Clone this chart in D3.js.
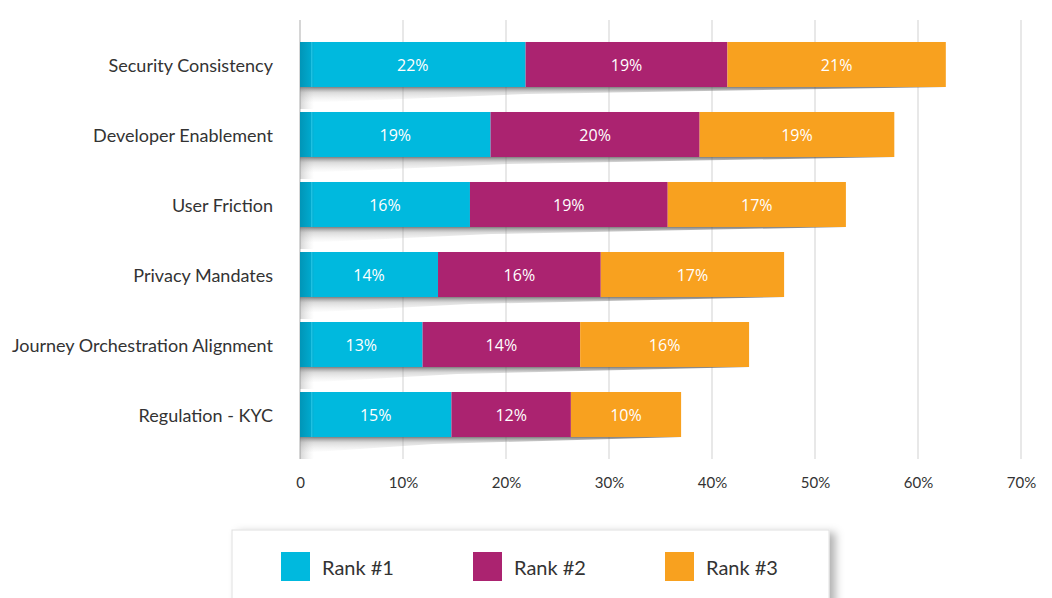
<!DOCTYPE html>
<html>
<head>
<meta charset="utf-8">
<script src="https://cdn.jsdelivr.net/npm/d3@7"></script>
<style>
  html, body { margin: 0; padding: 0; background: #fff; }
  svg { display: block; }
</style>
</head>
<body>
<svg width="1052" height="598"></svg>
<script>
// категории (сверху вниз)
const categories = ["Security Consistency", "Developer Enablement", "User Friction",
                    "Privacy Mandates", "Journey Orchestration Alignment", "Regulation - KYC"];
const seriesNames = ["Rank #1", "Rank #2", "Rank #3"];
const seriesColors = ["#00b9de", "#ab2370", "#f8a11f"];

// длины сегментов (в %)
const rank1 = [21.9, 18.5, 16.5, 13.4, 11.9, 14.7];
const rank2 = [19.6, 20.3, 19.2, 15.8, 15.3, 11.6];
const rank3 = [21.2, 18.9, 17.3, 17.8, 16.4, 10.7];
// подписи на сегментах
const label1 = [22, 19, 16, 14, 13, 15];
const label2 = [19, 20, 19, 16, 14, 12];
const label3 = [21, 19, 17, 17, 16, 10];

const tickValues = [0, 10, 20, 30, 40, 50, 60, 70];

const svg = d3.select("svg");
const defs = svg.append("defs");

const shadowGrad = defs.append("linearGradient")
    .attr("id", "barShadow").attr("x1", 0).attr("y1", 0).attr("x2", 0).attr("y2", 1);
shadowGrad.append("stop").attr("offset", "0%").attr("stop-color", "#555").attr("stop-opacity", 0.75);
shadowGrad.append("stop").attr("offset", "35%").attr("stop-color", "#999").attr("stop-opacity", 0.35);
shadowGrad.append("stop").attr("offset", "100%").attr("stop-color", "#ccc").attr("stop-opacity", 0);

const edgeGrad = defs.append("linearGradient")
    .attr("id", "edge").attr("x1", 0).attr("y1", 0).attr("x2", 1).attr("y2", 0);
edgeGrad.append("stop").attr("offset", "0%").attr("stop-color", "#00425e").attr("stop-opacity", 0.3);
edgeGrad.append("stop").attr("offset", "75%").attr("stop-color", "#00425e").attr("stop-opacity", 0.14);
edgeGrad.append("stop").attr("offset", "80%").attr("stop-color", "#ffffff").attr("stop-opacity", 0.15);
edgeGrad.append("stop").attr("offset", "100%").attr("stop-color", "#00425e").attr("stop-opacity", 0.04);

const stubGrad = defs.append("linearGradient")
    .attr("id", "stub").attr("x1", 0).attr("y1", 0).attr("x2", 1).attr("y2", 0);
stubGrad.append("stop").attr("offset", "0%").attr("stop-color", "#888").attr("stop-opacity", 0.35);
stubGrad.append("stop").attr("offset", "100%").attr("stop-color", "#bbb").attr("stop-opacity", 0);

const legendFilter = defs.append("filter").attr("id", "legShadow")
    .attr("x", "-5%").attr("y", "-20%").attr("width", "115%").attr("height", "150%");
legendFilter.append("feDropShadow").attr("dx", 6).attr("dy", 3).attr("stdDeviation", 4)
    .attr("flood-color", "#000").attr("flood-opacity", 0.3);

// шкалы
const scX = d3.scaleLinear().domain([0, 70]).range([300, 1021]);
const scY = d3.scaleBand().domain(categories).range([17, 462])
    .paddingInner(0.357).paddingOuter(0.357);

// сетка
svg.append("g").selectAll("line")
    .data(tickValues)
    .join("line")
    .attr("x1", d => scX(d)).attr("x2", d => scX(d))
    .attr("y1", 20).attr("y2", 459)
    .attr("stroke", d => d === 0 ? "#d6d6d6" : "#e8e8e8")
    .attr("stroke-width", 2);

// ось X
const axisX = d3.axisBottom(scX)
    .tickValues(tickValues)
    .tickSize(0)
    .tickFormat(d => d === 0 ? "0" : d + "%");
const gx = svg.append("g")
    .attr("transform", "translate(0, 471)")
    .call(axisX);
gx.select(".domain").remove();
gx.selectAll("text")
    .attr("font-family", "Lato, 'Open Sans', sans-serif")
    .attr("font-size", 15)
    .attr("fill", "#333")
    .attr("dy", "0.95em");

// стек
const rows = categories.map((c, i) => ({
    cat: c,
    vals: [rank1[i], rank2[i], rank3[i]],
    labels: [label1[i], label2[i], label3[i]]
}));

const rowG = svg.append("g").selectAll("g")
    .data(rows)
    .join("g");

// тень под столбиком
rowG.append("path")
    .attr("d", d => {
        const y0 = scY(d.cat) + scY.bandwidth();
        const xe = scX(d3.sum(d.vals));
        return `M${scX(0)},${y0} L${xe},${y0} L${scX(0) + (xe - scX(0)) * 0.35},${y0 + 7} L${scX(0)},${y0 + 16} Z`;
    })
    .attr("fill", "url(#barShadow)");

rowG.append("rect")
    .attr("x", scX(0))
    .attr("y", d => scY(d.cat) + scY.bandwidth())
    .attr("width", 14)
    .attr("height", 22)
    .attr("fill", "url(#stub)");

rowG.each(function(d) {
    const g = d3.select(this);
    let acc = 0;
    d.vals.forEach((v, k) => {
        const x0 = scX(acc), x1 = scX(acc + v);
        acc += v;
        g.append("rect")
            .attr("x", x0)
            .attr("y", scY(d.cat))
            .attr("width", x1 - x0)
            .attr("height", scY.bandwidth())
            .attr("fill", seriesColors[k]);
        g.append("text")
            .attr("x", (x0 + x1) / 2)
            .attr("y", scY(d.cat) + scY.bandwidth() / 2)
            .attr("dy", "0.42em")
            .attr("text-anchor", "middle")
            .attr("font-family", "'Open Sans', sans-serif")
            .attr("font-size", 16)
            .attr("fill", "#fff")
            .text(d.labels[k] + "%");
    });
    // затемнённый край слева
    g.append("rect")
        .attr("x", scX(0))
        .attr("y", scY(d.cat))
        .attr("width", 14)
        .attr("height", scY.bandwidth())
        .attr("fill", "url(#edge)");
});

// подписи категорий
svg.append("g").selectAll("text")
    .data(categories)
    .join("text")
    .attr("x", 273)
    .attr("y", d => scY(d) + scY.bandwidth() / 2)
    .attr("dy", "0.42em")
    .attr("text-anchor", "end")
    .attr("font-family", "Lato, 'Open Sans', sans-serif")
    .attr("font-size", 18)
    .attr("fill", "#333")
    .text(d => d);

// легенда
const leg = svg.append("g");
leg.append("rect")
    .attr("x", 232).attr("y", 530)
    .attr("width", 597).attr("height", 90)
    .attr("fill", "#fff")
    .attr("stroke", "#e0e0e0")
    .attr("filter", "url(#legShadow)");

const item = leg.selectAll("g")
    .data(seriesNames)
    .join("g")
    .attr("transform", (d, i) => `translate(${281 + i * 192}, 552)`);
item.append("rect")
    .attr("width", 29).attr("height", 29)
    .attr("fill", (d, i) => seriesColors[i]);
item.append("text")
    .attr("x", 41).attr("y", 15)
    .attr("dy", "0.38em")
    .attr("font-family", "Lato, 'Open Sans', sans-serif")
    .attr("font-size", 20)
    .attr("fill", "#333")
    .text(d => d);
</script>
</body>
</html>
